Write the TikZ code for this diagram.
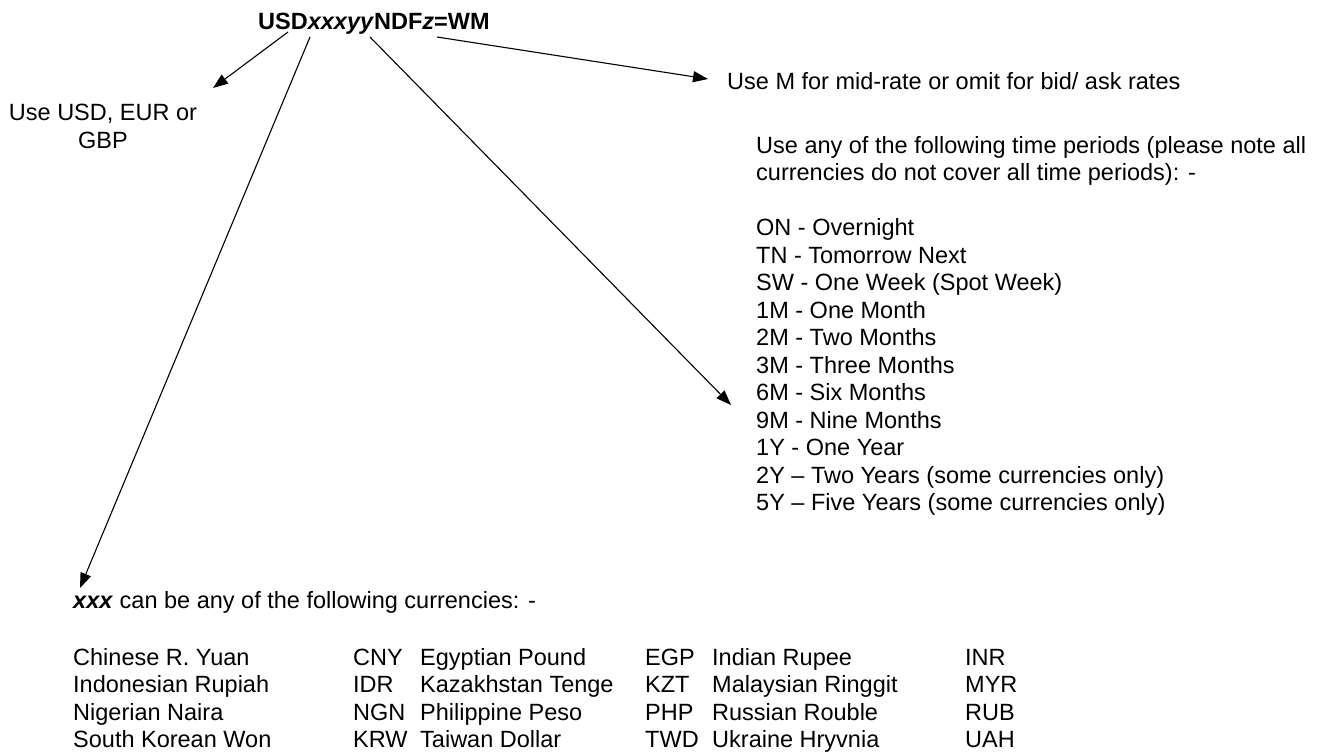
\documentclass[tikz,border=0pt]{standalone}
\usepackage{fontspec}
\setmainfont{Liberation Sans}
\usetikzlibrary{arrows.meta}
\begin{document}
\begin{tikzpicture}[x=1pt,y=-1pt,
  txt/.style={anchor=base west, inner sep=0pt, font=\fontsize{23.5}{27.6}\selectfont},
  ctxt/.style={anchor=base, inner sep=0pt, font=\fontsize{23.5}{27.6}\selectfont},
  arr/.style={line width=1.1pt, -{Triangle[length=15pt,width=11pt]}}]
\useasboundingbox[fill=white] (0,0) rectangle (1324,753);

% title
\node[txt, font=\bfseries\fontsize{23.5}{27.6}\selectfont] (title) at (258,29) {USD\textit{xxxyy}NDF\textit{z}=WM};

% left note
\node[ctxt] (usd1) at (103,120) {Use USD, EUR or};
\node[ctxt] (usd2) at (103,148) {GBP};

% mid-rate note
\node[txt] (mid) at (727,89) {Use M for mid-rate or omit for bid/ ask rates};

% time periods
\node[txt] (tp0) at (756,153) {Use any of the following time periods (please note all};
\node[txt] (tp1) at (756,180.5) {currencies do not cover all time periods): -};
\foreach \t [count=\i] in {ON - Overnight, TN - Tomorrow Next, SW - One Week (Spot Week), 1M - One Month, 2M - Two Months, 3M - Three Months, 6M - Six Months, 9M - Nine Months, 1Y - One Year, 2Y – Two Years (some currencies only), 5Y – Five Years (some currencies only)}
  \node[txt] (p\i) at (756,208+27.5*\i) {\t};

% currencies
\node[txt] (xxx) at (73,608) {\textbf{\textit{xxx}} can be any of the following currencies: -};
\foreach \a/\b/\c/\d/\e/\f [count=\r] in {
  Chinese R. Yuan/CNY/Egyptian Pound/EGP/Indian Rupee/INR,
  Indonesian Rupiah/IDR/Kazakhstan Tenge/KZT/Malaysian Ringgit/MYR,
  Nigerian Naira/NGN/Philippine Peso/PHP/Russian Rouble/RUB,
  South Korean Won/KRW/Taiwan Dollar/TWD/Ukraine Hryvnia/UAH}{
  \node[txt] (ra\r) at (73,637.4+27.6*\r) {\a};
  \node[txt] (rb\r) at (353,637.4+27.6*\r) {\b};
  \node[txt] (rc\r) at (420,637.4+27.6*\r) {\c};
  \node[txt] (rd\r) at (645,637.4+27.6*\r) {\d};
  \node[txt] (re\r) at (712,637.4+27.6*\r) {\e};
  \node[txt] (rf\r) at (965,637.4+27.6*\r) {\f};
}

% connector end points
\coordinate (s1) at (288,32);
\coordinate (e1) at (213,88);
\coordinate (s2) at (310,37);
\coordinate (e2) at (80,588);
\coordinate (s3) at (370,37);
\coordinate (e3) at (731,405);
\coordinate (s4) at (437,37);
\coordinate (e4) at (708,79);

\draw[arr] (s1) -- (e1);
\draw[arr] (s2) -- (e2);
\draw[arr] (s3) -- (e3);
\draw[arr] (s4) -- (e4);
\end{tikzpicture}
\end{document}
